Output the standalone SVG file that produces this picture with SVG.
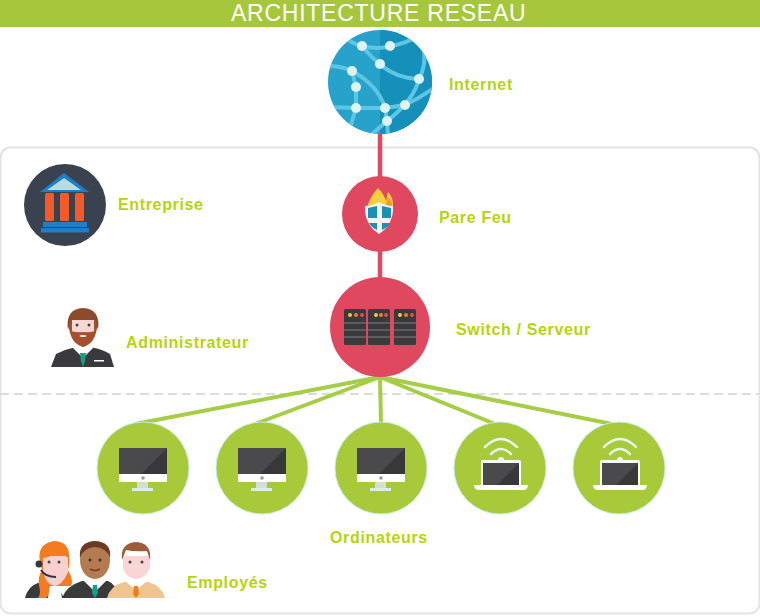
<svg xmlns="http://www.w3.org/2000/svg" width="760" height="616" viewBox="0 0 760 616">
<style>
.lb{font-family:"Liberation Sans",Arial,sans-serif;font-weight:700;font-size:16px;fill:#b5d50a;letter-spacing:.65px}
.tt{font-family:"Liberation Sans",Arial,sans-serif;font-size:23px;fill:#fff;letter-spacing:.75px}
.wire{stroke:#e0485f;stroke-width:4.5;fill:none}
.lan{stroke:#a5cd45;stroke-width:4;fill:none}
.pc{fill:#a7c93a;stroke:#c4efe0;stroke-width:1}
.net{fill:none;stroke:#5cc6e4;stroke-width:4}
.dot{fill:#dff3f7}
.srv{fill:#3a3a3d}
.sl{stroke:#68686b;stroke-width:1.5}
.wf{fill:none;stroke:#e6f8ee;stroke-width:2.5;stroke-linecap:round}
</style>
<defs>
<clipPath id="gc"><circle cx="380" cy="82" r="52"/></clipPath>
<g id="mon">
<rect x="-24" y="-20" width="48" height="26" fill="#4a4a4d"/>
<path d="M-2 6L24-20V6Z" fill="#38383b"/>
<rect x="-24" y="6" width="48" height="8" fill="#fff"/>
<circle cx="0" cy="10" r="1.8" fill="#999"/>
<rect x="-6" y="14" width="11" height="6" fill="#d8dcd8"/>
<rect x="-11" y="20" width="21" height="3" fill="#d6efe8"/>
</g>
<g id="lap">
<path class="wf" d="M-16-21Q0-37 16-21"/>
<path class="wf" d="M-10-14Q0-24 10-14"/>
<circle cx="0" cy="-8" r="3" fill="#f0faf0"/>
<rect x="-20" y="-8" width="40" height="26" rx="1.5" fill="#f6fbf4"/>
<rect x="-18" y="-5" width="36" height="22" fill="#4a4a4d"/>
<path d="M-4 17L18-5V17Z" fill="#38383b"/>
<path d="M-27 17H27Q27 22 22 22H-22Q-27 22-27 17Z" fill="#fff"/>
</g>
</defs>

<rect x="0.5" y="147.5" width="759" height="466" rx="10" fill="#fff" stroke="#e3e3e3" stroke-width="2"/>
<line x1="0" y1="394" x2="760" y2="394" stroke="#dcdcdc" stroke-width="2" stroke-dasharray="9 5"/>

<g id="header">
<rect x="0" y="0" width="760" height="27" fill="#a6c73b"/>
<text class="tt" x="231" y="21">ARCHITECTURE RESEAU</text>
</g>

<g id="connectors">
<line class="wire" x1="380" y1="130" x2="380" y2="300"/>
<line class="lan" x1="380" y1="377" x2="135" y2="424"/>
<line class="lan" x1="380" y1="377" x2="255" y2="424"/>
<line class="lan" x1="380" y1="377" x2="381" y2="424"/>
<line class="lan" x1="380" y1="377" x2="495" y2="424"/>
<line class="lan" x1="380" y1="377" x2="612" y2="424"/>
</g>

<g id="internet">
<circle cx="380" cy="82" r="52" fill="#27a3cb"/>
<g clip-path="url(#gc)">
<path d="M380 30H432V134H380Z" fill="#1490ba"/>
<path class="net" d="M340 34Q352 44 362 46Q378 50 390 46Q405 44 418 36"/>
<path class="net" d="M362 46Q372 58 380 64Q395 78 419 79"/>
<path class="net" d="M328 66Q342 66 352 71Q378 85 385 108L387 121L388 136"/>
<path class="net" d="M352 71L356 87L356 108L350 128"/>
<path class="net" d="M328 107L356 108L385 108L405 105Q420 98 434 88"/>
<path class="net" d="M419 79Q414 100 387 121L372 134"/>
<path class="net" d="M419 79Q426 66 424 52"/>
</g>
<circle class="dot" cx="362" cy="46" r="5"/><circle class="dot" cx="390" cy="46" r="5"/>
<circle class="dot" cx="380" cy="64" r="5"/><circle class="dot" cx="352" cy="71" r="5"/>
<circle class="dot" cx="356" cy="87" r="5"/><circle class="dot" cx="356" cy="108" r="5"/>
<circle class="dot" cx="385" cy="108" r="5"/><circle class="dot" cx="405" cy="105" r="5"/>
<circle class="dot" cx="419" cy="79" r="5"/><circle class="dot" cx="387" cy="121" r="5"/>
<text class="lb" x="449" y="90">Internet</text>
</g>

<g id="entreprise">
<circle cx="65" cy="205" r="41" fill="#3a4250"/>
<path d="M64 173L89 192H40Z" fill="#1e7fc8"/>
<path d="M64 178L81 190H47Z" fill="#bcd9dc"/>
<rect x="45" y="193" width="9" height="28" rx="1.5" fill="#f4592a"/>
<rect x="60" y="193" width="9" height="28" rx="1.5" fill="#f4592a"/>
<rect x="75" y="193" width="9" height="28" rx="1.5" fill="#f4592a"/>
<rect x="43" y="222" width="44" height="5" fill="#1e7fc8"/>
<rect x="41" y="228" width="48" height="4.5" fill="#1e7fc8"/>
<text class="lb" x="118" y="210">Entreprise</text>
</g>

<g id="parefeu">
<circle cx="380" cy="214" r="38" fill="#e0485f"/>
<path d="M367 207Q370 197 378 188Q384 194 386 201L388 192Q394 198 393 208Z" fill="#f7cf3e"/>
<path d="M385 208L388 197Q392 201 393 208Z" fill="#f29a2e"/>
<path d="M379 202Q386 206 393 206Q394 224 379 234Q364 224 365 206Q372 206 379 202Z" fill="#f2f5f5"/>
<path d="M368 208L377 206V218H368Z M382 206L391 208V218H382Z M369 223H377V230Q371 227 369 223Z M382 223H390Q388 227 382 230Z" fill="#1a8fb8"/>
<text class="lb" x="439" y="223">Pare Feu</text>
</g>

<g id="switch">
<circle cx="380" cy="327" r="50" fill="#e0485f"/>
<rect class="srv" x="344" y="309" width="22" height="36" rx="1.5"/>
<rect class="srv" x="368" y="309" width="22" height="36" rx="1.5"/>
<rect class="srv" x="394" y="309" width="22" height="36" rx="1.5"/>
<path class="sl" d="M344 323H366M344 330H366M344 337H366M368 323H390M368 330H390M368 337H390M394 323H416M394 330H416M394 337H416"/>
<circle cx="350" cy="315" r="2" fill="#f5c53a"/><circle cx="356" cy="315" r="2" fill="#e8803a"/><circle cx="362" cy="315" r="2" fill="#d9534a"/>
<circle cx="376" cy="315" r="2" fill="#f5c53a"/><circle cx="381" cy="315" r="2" fill="#e8803a"/><circle cx="386" cy="315" r="2" fill="#d9534a"/>
<circle cx="400" cy="315" r="2" fill="#f5c53a"/><circle cx="406" cy="315" r="2" fill="#e8803a"/><circle cx="412" cy="315" r="2" fill="#d9534a"/>
<text class="lb" x="456" y="335">Switch / Serveur</text>
</g>

<g id="administrateur">
<path d="M51 367L56 354Q66 349 76 347H90Q102 349 110 354L114 367Z" fill="#3a3a3d"/>
<path d="M73 348L83 358L93 348L91 345H75Z" fill="#fff"/>
<path d="M80 353H86L85 361L83 367L81 361Z" fill="#12a08a"/>
<rect x="94" y="360" width="10" height="1.5" fill="#fff"/>
<path d="M69 320Q67 340 83 347Q99 340 97 320Z" fill="#a44f2d"/>
<rect x="72" y="318" width="22" height="18" fill="#f7d6d3"/>
<path d="M71 331Q77 333 83 332Q89 333 95 331Q96 342 83 347Q70 342 71 331Z" fill="#a44f2d"/>
<path d="M79 336Q83 334 87 336Q83 338 79 336Z" fill="#fff"/>
<path d="M68 330Q65 309 83 308Q101 309 98 330L95 320H71Z" fill="#8d4b2e"/>
<circle cx="77" cy="325" r="1.5" fill="#444"/><circle cx="89" cy="325" r="1.5" fill="#444"/>
<text class="lb" x="126" y="348">Administrateur</text>
</g>

<g id="ordinateurs">
<circle class="pc" cx="143" cy="468" r="46"/><use href="#mon" x="143" y="468"/>
<circle class="pc" cx="262" cy="468" r="46"/><use href="#mon" x="262" y="468"/>
<circle class="pc" cx="381" cy="468" r="46"/><use href="#mon" x="381" y="468"/>
<circle class="pc" cx="500" cy="468" r="46"/><use href="#lap" x="501" y="468"/>
<circle class="pc" cx="619" cy="468" r="46"/><use href="#lap" x="620" y="468"/>
<text class="lb" x="330" y="543">Ordinateurs</text>
</g>

<g id="employes">
<path d="M25 598Q28 586 38 583H56L64 598Z" fill="#3a3a3d"/>
<path d="M38 598C44 590 34 584 42 570Q36 552 44 545Q54 538 63 545Q73 555 68 570Q74 580 71 586L58 586L46 598Z" fill="#f47b20"/>
<path d="M43 556H68V572Q62 586 54 586Q46 584 43 572Z" fill="#f8d0d0"/>
<path d="M48 598L50 586H60L62 598Z" fill="#fff"/>
<path d="M42 558Q52 558 58 550Q64 556 69 558Q70 542 55 541Q41 542 42 558Z" fill="#f47b20"/>
<circle cx="39" cy="564" r="3.5" fill="#33363c"/>
<path d="M41 570Q45 577 56 577" fill="none" stroke="#33363c" stroke-width="2"/>
<circle cx="49" cy="562" r="1.5" fill="#444"/><circle cx="59" cy="562" r="1.5" fill="#444"/>
<path d="M62 598Q66 586 82 581H108Q116 584 120 598Z" fill="#3a3a3d"/>
<path d="M84 581L95 592L106 581L104 575H86Z" fill="#fff"/>
<path d="M93 585H97L98 593L95 598L92 593Z" fill="#12a08a"/>
<ellipse cx="95" cy="560" rx="15" ry="19" fill="#b47b50"/>
<path d="M80 558Q78 542 95 541Q112 542 110 558Q107 548 95 547Q83 548 80 558Z" fill="#6b3a24"/>
<circle cx="90" cy="560" r="1.5" fill="#333"/><circle cx="100" cy="560" r="1.5" fill="#333"/>
<path d="M90 569Q95 572 100 569" stroke="#7a3f2a" stroke-width="1.5" fill="none"/>
<path d="M107 598Q110 586 124 582H148Q162 586 165 598Z" fill="#eec48f"/>
<path d="M126 582L136 590L146 582L144 576H128Z" fill="#fff"/>
<path d="M134 586H138L139 594L136 598L133 594Z" fill="#e8801e"/>
<path d="M123 556H150V568Q145 579 136 579Q127 579 123 568Z" fill="#f9d5d5"/>
<path d="M122 560Q120 543 136 542Q152 543 150 560L147 551Q134 552 126 550Z" fill="#a05c3a"/>
<circle cx="130" cy="562" r="1.5" fill="#444"/><circle cx="142" cy="562" r="1.5" fill="#444"/>
<text class="lb" x="187" y="588">Employés</text>
</g>
</svg>
